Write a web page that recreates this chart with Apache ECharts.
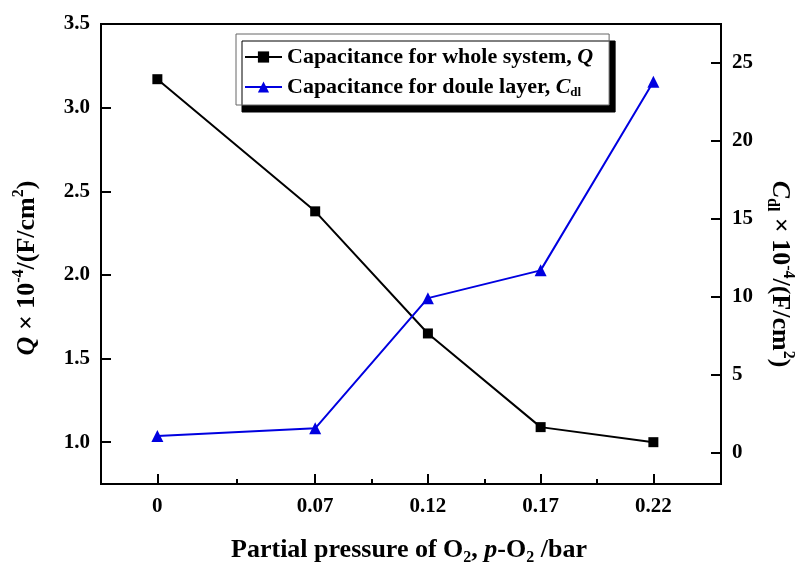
<!DOCTYPE html>
<html><head><meta charset="utf-8">
<script src="https://cdn.jsdelivr.net/npm/echarts@6/dist/echarts.min.js"></script>
<style>html,body{margin:0;padding:0;background:#fff}#c{width:805px;height:569px}</style>
</head><body><div id="c"></div>
<script>
var pressure = [0, 0.07, 0.12, 0.17, 0.22];
var qValues = [3.17, 2.38, 1.65, 1.09, 1.0];
var cdlValues = [1.08, 1.57, 9.92, 11.7, 23.8];
var xTickValues = [0, 0.07, 0.12, 0.17, 0.22];
var xMinorTicks = [0.035, 0.095, 0.145, 0.195];
var leftTicks = [1.0, 1.5, 2.0, 2.5, 3.0, 3.5];
var rightTicks = [0, 5, 10, 15, 20, 25];

var F = '"Liberation Serif","Times New Roman",serif';
var BLUE = '#0000e0';
var chart = echarts.init(document.getElementById('c'));
function pairs(xs, ys){ return xs.map(function(x,i){return [x, ys[i]];}); }
function titleRich(c){
  return {
    n: {fontFamily:F, fontWeight:'bold', fontSize:26, lineHeight:32, color:c},
    i: {fontFamily:F, fontWeight:'bold', fontStyle:'italic', fontSize:26, lineHeight:32, color:c},
    sup: {fontFamily:F, fontWeight:'bold', fontSize:16, lineHeight:16, verticalAlign:'top', color:c},
    sub: {fontFamily:F, fontWeight:'bold', fontSize:16, lineHeight:14, verticalAlign:'bottom', color:c}
  };
}
var tickFont = {fontFamily:F, fontWeight:'bold', fontSize:21, color:'#000'};
chart.setOption({
  animation:false,
  grid:{left:101, right:84, top:24, bottom:85, show:true, borderColor:'#000', borderWidth:2, backgroundColor:'transparent'},
  legend:{
    orient:'vertical', left:236, top:34,
    padding:[12,16,6,8], itemGap:8, itemWidth:37, itemHeight:14,
    backgroundColor:'#fff', borderColor:'#666', borderWidth:1,
    shadowColor:'#000', shadowBlur:0, shadowOffsetX:6, shadowOffsetY:7,
    data:['Q','Cdl'],
    formatter:function(n){
      return n==='Q' ? '{t|Capacitance for whole system, }{i|Q}' : '{t|Capacitance for doule layer, }{i|C}{s|dl}';
    },
    textStyle:{
      fontFamily:F, fontWeight:'bold', fontSize:22, color:'#000',
      rich:{
        t:{fontFamily:F, fontWeight:'bold', fontSize:22, lineHeight:24},
        i:{fontFamily:F, fontWeight:'bold', fontStyle:'italic', fontSize:22, lineHeight:24},
        s:{fontFamily:F, fontWeight:'bold', fontSize:13, lineHeight:12, verticalAlign:'bottom'}
      }
    }
  },
  graphic:[{
    type:'text', x:409, y:550,
    style:{text:'{n|Partial pressure of O}{sub|2}{n|, }{i|p}{n|-O}{sub|2}{n| /bar}', rich:titleRich('#000'), align:'center', verticalAlign:'middle'}
  },{
    type:'text', x:27, y:268, rotation:Math.PI/2,
    style:{text:'{i|Q}{n| × 10}{sup|-4}{n|/(F/cm}{sup|2}{n|)}', rich:titleRich('#000'), align:'center', verticalAlign:'middle'}
  },{
    type:'text', x:780, y:274, rotation:-Math.PI/2,
    style:{text:'{i|C}{sub|dl}{n| × 10}{sup|-4}{n|/(F/cm}{sup|2}{n|)}', rich:titleRich(BLUE), align:'center', verticalAlign:'middle'}
  }],
  xAxis:[{
    type:'value', min:-0.025, max:0.25, position:'bottom',
    axisLine:{show:true, onZero:false, lineStyle:{color:'#000', width:2}},
    axisTick:{show:true, inside:true, length:10, customValues:xTickValues, lineStyle:{color:'#000', width:2}},
    axisLabel:Object.assign({show:true, customValues:xTickValues, margin:12,
      formatter:function(v){ return String(v); }}, tickFont),
    splitLine:{show:false}
  },{
    type:'value', min:-0.025, max:0.25, position:'bottom',
    axisLine:{show:false, onZero:false},
    axisTick:{show:true, inside:true, length:5, customValues:xMinorTicks, lineStyle:{color:'#000', width:2}},
    axisLabel:{show:false}, splitLine:{show:false}
  }],
  yAxis:[{
    type:'value', min:0.75, max:3.5, position:'left',
    axisLine:{show:true, onZero:false, lineStyle:{color:'#000', width:2}},
    axisTick:{show:true, inside:true, length:10, customValues:leftTicks, lineStyle:{color:'#000', width:2}},
    axisLabel:Object.assign({customValues:leftTicks, margin:11,
      formatter:function(v){ return v.toFixed(1); }}, tickFont),
    splitLine:{show:false}
  },{
    type:'value', min:-2, max:27.5, position:'right',
    axisLine:{show:true, onZero:false, lineStyle:{color:'#000', width:2}},
    axisTick:{show:true, inside:true, length:10, customValues:rightTicks, lineStyle:{color:'#000', width:2}},
    axisLabel:Object.assign({customValues:rightTicks, margin:11}, tickFont),
    splitLine:{show:false}
  }],
  series:[{
    name:'Q', type:'line', xAxisIndex:0, yAxisIndex:0,
    data:pairs(pressure, qValues),
    symbol:'rect', symbolSize:10,
    lineStyle:{color:'#000', width:2}, itemStyle:{color:'#000'}
  },{
    name:'Cdl', type:'line', xAxisIndex:0, yAxisIndex:1,
    data:pairs(pressure, cdlValues),
    symbol:'triangle', symbolSize:12,
    lineStyle:{color:BLUE, width:2}, itemStyle:{color:BLUE}
  }]
});
</script></body></html>
